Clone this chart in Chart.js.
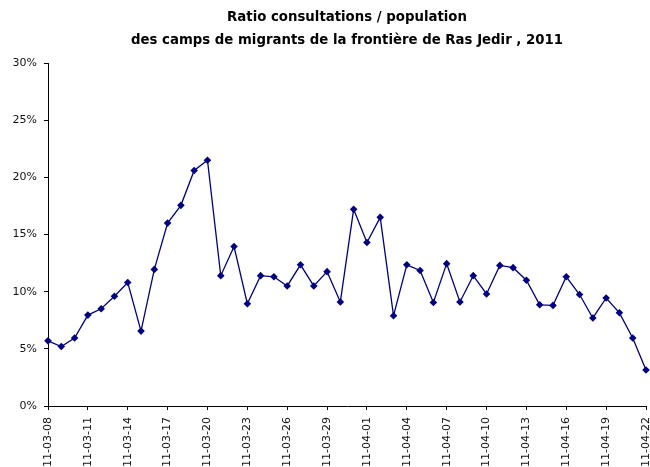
<!DOCTYPE html>
<html>
<head>
<meta charset="utf-8">
<script src="https://cdn.jsdelivr.net/npm/chart.js@4"></script>
<style>
  html, body { margin: 0; padding: 0; background: #fff; overflow: hidden; }
  #wrap { width: 650px; height: 467px; }
</style>
</head>
<body>
<div id="wrap"><canvas id="ratioChart" width="650" height="467"></canvas></div>
<script>
// dates (yy-mm-dd) and ratio in %
const dates = [
    '11-03-08','11-03-09','11-03-10','11-03-11','11-03-12','11-03-13','11-03-14','11-03-15',
    '11-03-16','11-03-17','11-03-18','11-03-19','11-03-20','11-03-21','11-03-22','11-03-23',
    '11-03-24','11-03-25','11-03-26','11-03-27','11-03-28','11-03-29','11-03-30','11-03-31',
    '11-04-01','11-04-02','11-04-03','11-04-04','11-04-05','11-04-06','11-04-07','11-04-08',
    '11-04-09','11-04-10','11-04-11','11-04-12','11-04-13','11-04-14','11-04-15','11-04-16',
    '11-04-17','11-04-18','11-04-19','11-04-20','11-04-21','11-04-22'
];
const ratio = [
    5.7, 5.2, 5.95, 7.95, 8.5, 9.6, 10.8, 6.55,
    11.95, 16.0, 17.55, 20.6, 21.5, 11.4, 13.95, 8.95,
    11.4, 11.3, 10.5, 12.35, 10.5, 11.75, 9.1, 17.2,
    14.3, 16.5, 7.9, 12.35, 11.85, 9.05, 12.45, 9.1,
    11.4, 9.8, 12.3, 12.1, 11.0, 8.85, 8.8, 11.3,
    9.75, 7.7, 9.45, 8.15, 5.95, 3.15
];
const titleLines = ['Ratio consultations / population', 'des camps de migrants de la frontière de Ras Jedir , 2011'];
const yTicks = [0, 5, 10, 15, 20, 25, 30];

const navy = '#000080';
const fontFamily = '"DejaVu Sans", Verdana, sans-serif';

const ratioChart = new Chart(document.getElementById('ratioChart').getContext('2d'), {
    type: 'line',
    data: {
        labels: dates,
        datasets: [{
            label: 'Ratio',
            data: ratio,
            borderColor: navy,
            backgroundColor: navy,
            borderWidth: 1.3,
            pointStyle: 'rectRot',
            pointRadius: 3.8,
            pointBackgroundColor: navy,
            pointBorderColor: navy,
            pointBorderWidth: 0,
            tension: 0,
            clip: false
        }]
    },
    options: {
        responsive: false,
        animation: false,
        layout: { padding: { left: 0, right: 0, top: 0, bottom: 0 } },
        plugins: {
            legend: { display: false },
            tooltip: { enabled: false },
            title: {
                display: true,
                fullSize: false,   // centre over the plot, not the canvas
                text: titleLines,
                color: '#000',
                font: { family: fontFamily, size: 13.3, weight: 'bold', lineHeight: 1.73 },
                padding: { top: 6.5, bottom: 10.5 }
            }
        },
        scales: {
            x: {
                offset: false,
                grid: {
                    drawOnChartArea: false,
                    drawTicks: true,
                    tickLength: 4,
                    tickColor: (c) => (c.index % 3 === 0 ? '#000' : 'rgba(0,0,0,0)')
                },
                border: { color: '#000', width: 1 },
                ticks: {
                    autoSkip: false,
                    minRotation: 90,
                    maxRotation: 90,
                    padding: 7,
                    color: '#111',
                    font: { family: fontFamily, size: 11 },
                    callback: function (val, i) { return i % 3 === 0 ? dates[i] : ''; }
                },
                afterFit: function (scale) {
                    scale.height = 61;
                    scale.paddingLeft = 0;
                    scale.paddingRight = 0;
                }
            },
            y: {
                min: 0,
                max: 30,
                afterBuildTicks: function (scale) {
                    scale.ticks = yTicks.map(v => ({ value: v }));
                },
                grid: {
                    drawOnChartArea: false,
                    drawTicks: true,
                    tickLength: 4,
                    tickColor: '#000'
                },
                border: { color: '#000', width: 1 },
                ticks: {
                    padding: 7,
                    color: '#111',
                    font: { family: fontFamily, size: 11 },
                    callback: (v) => v + '%'
                },
                afterFit: function (scale) {
                    scale.width = 48;
                }
            }
        }
    }
});
</script>
</body>
</html>
